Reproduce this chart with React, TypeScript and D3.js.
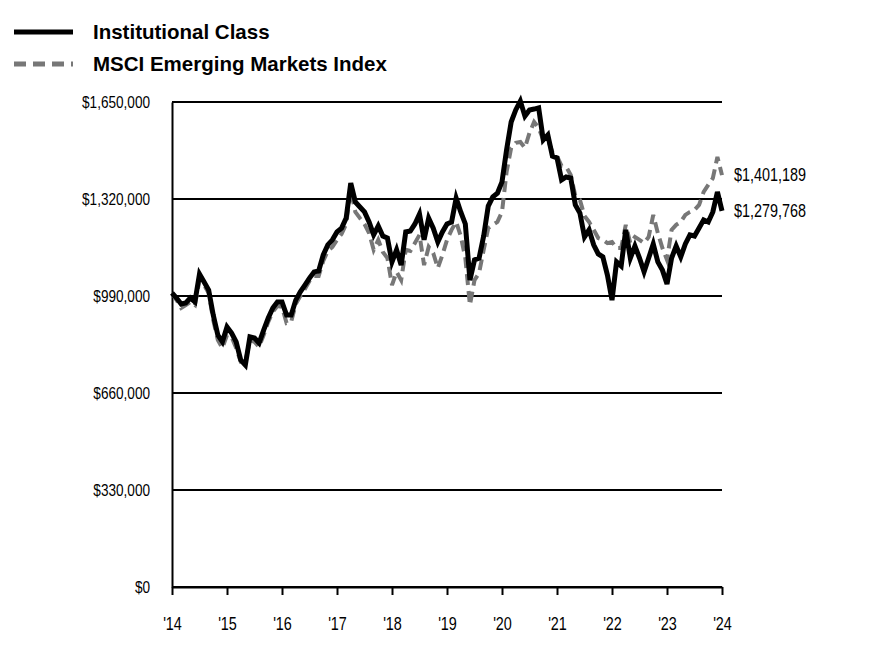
import React, { useRef, useEffect } from 'react';
import * as d3 from 'd3';

// growth of a hypothetical $1,000,000 investment, month-end values in $ thousands
const institutionalClass = [
  1000, 983, 963, 966, 983, 970, 1065, 1038, 1010, 925, 857, 834,
  885, 864, 834, 772, 755, 851, 847, 830, 874, 915, 949, 970,
  970, 925, 925, 976, 1004, 1027, 1051, 1072, 1075, 1130, 1164, 1181,
  1208, 1221, 1255, 1374, 1310, 1293, 1276, 1242, 1198, 1228, 1194, 1187,
  1106, 1147, 1095, 1208, 1211, 1235, 1269, 1181, 1255, 1221, 1174, 1208,
  1235, 1242, 1323, 1276, 1235, 1044, 1113, 1119, 1194, 1296, 1327, 1340,
  1378, 1487, 1582, 1623, 1653, 1602, 1623, 1626, 1630, 1521, 1538, 1466,
  1460, 1385, 1395, 1391, 1300, 1272, 1191, 1215, 1164, 1133, 1123, 1061,
  976, 1106, 1092, 1215, 1119, 1160, 1119, 1072, 1119, 1167, 1106, 1078,
  1031, 1119, 1160, 1123, 1167, 1198, 1194, 1221, 1249, 1242, 1276, 1344,
  1279.768,
];

const msciEmergingMarkets = [
  1000, 976, 949, 959, 970, 959, 1044, 1027, 1000, 908, 840, 813,
  857, 851, 813, 766, 766, 840, 834, 817, 857, 902, 936, 956,
  953, 898, 902, 963, 990, 1014, 1041, 1058, 1058, 1109, 1143, 1157,
  1181, 1201, 1235, 1351, 1276, 1255, 1235, 1204, 1147, 1181, 1140, 1119,
  1027, 1072, 1044, 1147, 1143, 1170, 1198, 1095, 1157, 1136, 1085, 1130,
  1181, 1215, 1242, 1194, 1119, 959, 1044, 1068, 1147, 1221, 1232, 1242,
  1276, 1412, 1494, 1511, 1514, 1494, 1545, 1582, 1562, 1521, 1521, 1480,
  1466, 1432, 1429, 1402, 1330, 1317, 1262, 1242, 1215, 1187, 1181, 1170,
  1174, 1153, 1153, 1232, 1170, 1191, 1181, 1170, 1191, 1266, 1204, 1153,
  1113, 1215, 1232, 1242, 1266, 1276, 1283, 1300, 1344, 1368, 1391, 1463,
  1401.189,
];

const yearLabels = ["'14", "'15", "'16", "'17", "'18", "'19", "'20", "'21", "'22", "'23", "'24"];
const yTicks = [0, 330000, 660000, 990000, 1320000, 1650000];

const seriesInfo = [
  { name: 'Institutional Class', values: institutionalClass, color: '#000000', width: 5, dash: null as string | null },
  { name: 'MSCI Emerging Markets Index', values: msciEmergingMarkets, color: '#777777', width: 4, dash: '11,6' },
];

const W = 876;
const H = 672;
const FONT = "'Liberation Sans', Arial, sans-serif";
const SQUEEZE = 0.8; // reference font is a narrow face

const App: React.FC = () => {
  const svgRef = useRef<SVGSVGElement>(null);

  useEffect(() => {
    if (!svgRef.current) return;
    const svg = d3.select(svgRef.current);
    svg.selectAll('*').remove();

    const margin = { top: 102, left: 172, right: 154, bottom: 85 };
    const innerW = W - margin.left - margin.right;
    const innerH = H - margin.top - margin.bottom;

    const nMonths = institutionalClass.length - 1;
    const x = d3.scaleLinear().domain([0, nMonths]).range([0, innerW]);
    const y = d3.scaleLinear().domain([0, 1650000]).range([innerH, 0]);

    const g = svg.append('g').attr('transform', `translate(${margin.left},${margin.top})`);

    // horizontal gridlines
    g.selectAll('.grid')
      .data(yTicks)
      .enter()
      .append('line')
      .attr('x1', 0)
      .attr('x2', innerW)
      .attr('y1', d => y(d))
      .attr('y2', d => y(d))
      .attr('stroke', '#000')
      .attr('stroke-width', 2);

    // y axis labels
    const yAxis = d3.axisLeft(y)
      .tickValues(yTicks)
      .tickSize(0)
      .tickPadding(22)
      .tickFormat(d => '$' + d3.format(',')(d as number));
    const yg = g.append('g').call(yAxis);
    yg.select('.domain').attr('stroke', '#000').attr('stroke-width', 2);
    yg.selectAll('.tick text')
      .attr('x', -22 / SQUEEZE)
      .attr('transform', `scale(${SQUEEZE},1)`)
      .attr('font-family', FONT)
      .attr('font-size', 17)
      .attr('fill', '#000');

    // x axis
    const xAxis = d3.axisBottom(x)
      .tickValues(d3.range(0, nMonths + 1, 12))
      .tickSize(8)
      .tickPadding(22)
      .tickSizeOuter(0)
      .tickFormat((_, i) => yearLabels[i]);
    const xg = g.append('g').attr('transform', `translate(0,${innerH})`).call(xAxis);
    xg.select('.domain').attr('stroke', '#000').attr('stroke-width', 2);
    xg.selectAll('.tick line').attr('stroke', '#000').attr('stroke-width', 2);
    xg.selectAll('.tick text')
      .attr('transform', `scale(${SQUEEZE},1)`)
      .attr('font-family', FONT)
      .attr('font-size', 18)
      .attr('fill', '#000');

    // series lines, index drawn first
    const line = d3.line<number>()
      .x((_, i) => x(i))
      .y(d => y(d * 1000));

    [...seriesInfo].reverse().forEach(s => {
      g.append('path')
        .datum(s.values)
        .attr('d', line)
        .attr('fill', 'none')
        .attr('stroke', s.color)
        .attr('stroke-width', s.width)
        .attr('stroke-linejoin', 'miter')
        .attr('stroke-dasharray', s.dash);
    });

    // end value labels
    seriesInfo.forEach(s => {
      const last = s.values[s.values.length - 1] * 1000;
      g.append('g')
        .attr('transform', `translate(${innerW + 12},${y(last)})`)
        .append('text')
        .attr('transform', `scale(${SQUEEZE},1)`)
        .attr('dy', '0.35em')
        .attr('font-family', FONT)
        .attr('font-size', 18)
        .attr('fill', '#000')
        .text('$' + d3.format(',')(Math.round(last)));
    });

    // legend
    const legend = svg.append('g');
    seriesInfo.forEach((s, i) => {
      const ly = 32 + i * 32;
      legend.append('line')
        .attr('x1', 14)
        .attr('x2', 73)
        .attr('y1', ly)
        .attr('y2', ly)
        .attr('stroke', s.color)
        .attr('stroke-width', 5)
        .attr('stroke-dasharray', s.dash ? '12,7' : null);
      legend.append('text')
        .attr('x', 93)
        .attr('y', ly)
        .attr('dy', '0.35em')
        .attr('font-family', FONT)
        .attr('font-weight', 'bold')
        .attr('font-size', 20.5)
        .attr('fill', '#000')
        .text(s.name);
    });
  }, []);

  return (
    <div style={{ position: 'absolute', left: 0, top: 0 }}>
      <svg ref={svgRef} width={W} height={H} style={{ display: 'block', background: '#fff' }} />
    </div>
  );
};

export default App;
